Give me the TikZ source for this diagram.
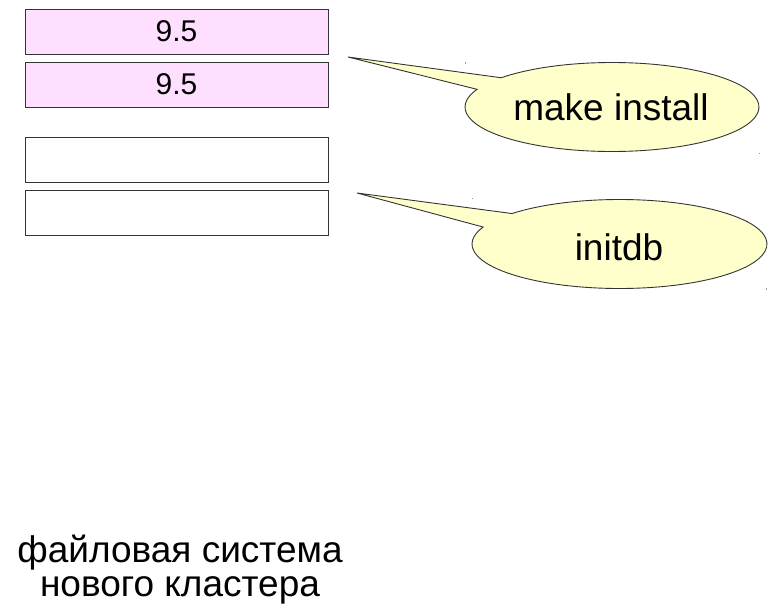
\documentclass[tikz,border=0pt]{standalone}
\usepackage{fontspec}
\setmainfont{Liberation Sans}
\usetikzlibrary{calc}
\definecolor{boxpink}{RGB}{255,223,255}
\definecolor{calloutyellow}{RGB}{255,255,204}
\definecolor{edgegray}{RGB}{52,52,52}
\tikzset{
  stackbox/.style={draw=edgegray, line width=0.9pt, minimum width=303pt, minimum height=45pt, inner sep=0pt, font=\fontsize{30}{36}\selectfont},
  pinkbox/.style={stackbox, fill=boxpink},
  whitebox/.style={stackbox, fill=white},
  callout/.style={draw=edgegray, fill=calloutyellow, line width=0.9pt, line join=miter},
  callouttext/.style={anchor=base, inner sep=0pt, font=\fontsize{37}{44}\selectfont},
  marker/.style={fill=black!40}
}
\begin{document}
\begin{tikzpicture}[x=1pt, y=-1pt]
\useasboundingbox (0,0) rectangle (768,613);
% stacked boxes
\node[pinkbox] (b1) at (176.5,31.5) {9.5};
\node[pinkbox] (b2) at (176.5,84.5) {9.5};
\node[whitebox] (b3) at (176.5,160) {};
\node[whitebox] (b4) at (176.5,213) {};
% callout 1
\coordinate (c1) at (612,107);
\coordinate (t1) at (348,57);
\path[callout] (t1) -- ($(c1)+(138.9:147pt and 44.5pt)$)
  arc[start angle=138.9, end angle=-203.4, x radius=147pt, y radius=44.5pt] -- cycle;
\node[callouttext] (mk) at (611,120) {make install};
% callout 2
\coordinate (c2) at (619.5,244);
\coordinate (t2) at (357,193);
\path[callout] (t2) -- ($(c2)+(136.8:147.5pt and 44.5pt)$)
  arc[start angle=136.8, end angle=-202.4, x radius=147.5pt, y radius=44.5pt] -- cycle;
\node[callouttext] (idb) at (619,260) {initdb};
% faint corner markers
\fill[marker] (464.5,62) rectangle (466,63.5);
\fill[marker] (758.5,152.5) rectangle (760,154);
\fill[marker] (471.5,197.5) rectangle (473,199);
\fill[marker] (765.5,288) rectangle (767,289.5);
% caption
\node[align=center, anchor=base, inner sep=0pt, font=\fontsize{37}{34}\selectfont] (cap) at (180,596) {файловая система\\нового кластера};
\end{tikzpicture}
\end{document}
